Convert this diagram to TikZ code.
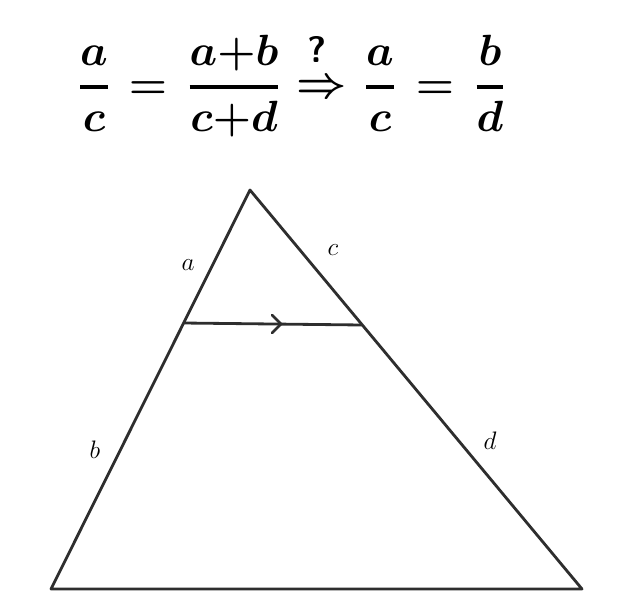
\documentclass[tikz,border=0pt]{standalone}
\usepackage{amsmath}
\usetikzlibrary{calc}
\newcommand{\thickfrac}[2]{\genfrac{}{}{2pt}{0}{#1}{#2}}
\tikzset{formula/.style={font=\fontsize{27}{32}\selectfont\boldmath, inner sep=0pt, anchor=base}}
\begin{document}
\begin{tikzpicture}[x=0.02cm, y=-0.02cm]
		%%%%% START %%%%%
		\useasboundingbox (0, 0) rectangle (632, 612);
		
		\node[formula] (fracac) at (94, 98) {$\thickfrac{a}{c}$};
		\node[formula] (eqone) at (148, 98) {$=$};
		\node[formula] (fracsum) at (234, 98) {$\thickfrac{a{+}b}{c{+}d}$};
		\node[formula] (implies) at (322, 97) {$\Rightarrow$};
		\node[font=\fontsize{21}{24}\selectfont\bfseries\sffamily, inner sep=0pt, anchor=base] (query) at (317, 62) {?};
		\node[formula] (fracac2) at (380, 98) {$\thickfrac{a}{c}$};
		\node[formula] (eqtwo) at (435, 98) {$=$};
		\node[formula] (fracbd) at (490, 98) {$\thickfrac{b}{d}$};
		
		\coordinate (top) at (250, 190);
		\coordinate (left) at (51, 589);
		\coordinate (right) at (582, 589);
		\coordinate (p) at (183, 323);
		\coordinate (q) at (362, 325);
		
		\draw[line width=1.6pt, color=black!82, line join=round] (top) -- (left) -- (right) -- cycle;
		\draw[line width=1.6pt, color=black!82] (p) -- (q);
		\draw[line width=1.6pt, color=black!82, line cap=round] (272, 315) -- (281, 324) -- (272, 333);
		
		\node (la) at (188, 265) {\Large $a$};
		\node (lc) at (333, 250) {\Large $c$};
		\node (lb) at (95, 450) {\Large $b$};
		\node (ld) at (490, 441) {\Large $d$};
		
		%%%%% END %%%%%
	\end{tikzpicture}
\end{document}
